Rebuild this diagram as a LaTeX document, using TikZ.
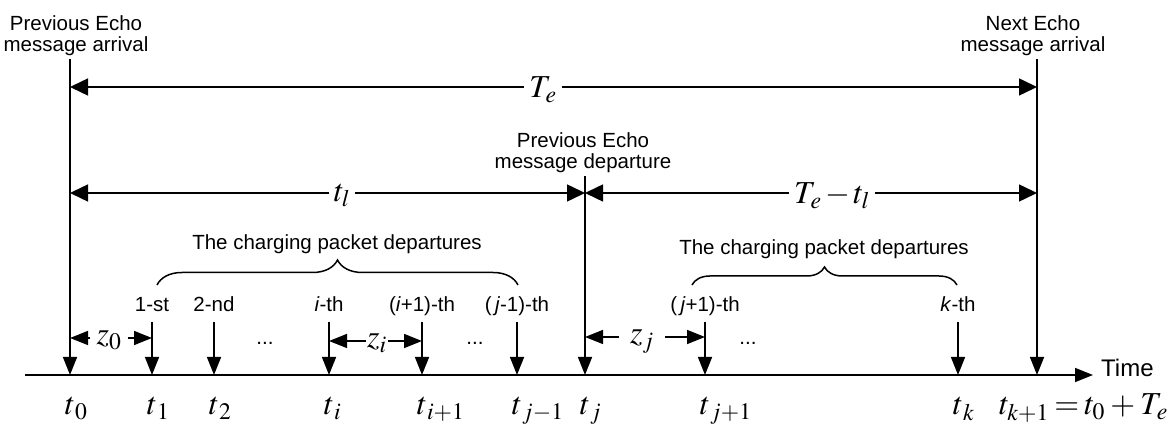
\documentclass[tikz,border=0pt]{standalone}
\usepackage{mathptmx}
\usepackage[no-math]{fontspec}
\usepackage{mathtools}
\usetikzlibrary{arrows.meta,decorations.pathreplacing}
\newfontfamily\arialfont{Liberation Sans}

\begin{document}
\begin{tikzpicture}[x=1pt, y=1pt,
    txt/.style={font=\arialfont\fontsize{20.5}{21}\selectfont, align=center, inner sep=3pt},
    mlab/.style={font=\fontsize{32}{36}\selectfont, inner sep=5pt, text depth=0pt},
    zlab/.style={font=\fontsize{32}{36}\selectfont, inner ysep=2pt, inner xsep=#1, text depth=0pt},
    tlab/.style={font=\fontsize{32}{36}\selectfont, anchor=base, inner sep=0pt},
    tick/.style={-{Triangle[length=18pt,width=14pt]}, line width=1.5pt},
    dim/.style={-{Triangle[length=18pt,width=17pt]}, line width=1.5pt},
    axis/.style={-{Triangle[length=18pt,width=14pt]}, line width=1.5pt},
    brc/.style={decorate, decoration={brace, amplitude=#1}, line width=1.5pt}]
    \useasboundingbox (0,0) rectangle (1174,425);

    \coordinate (a0) at (25,50);
    \coordinate (x0) at (70,50);
    \coordinate (xj) at (585,50);
    \coordinate (xe) at (1037,50);

    \node (time) [txt, font=\arialfont\fontsize{24}{25}\selectfont, anchor=base west, inner xsep=8pt] at (1093,48) {Time};
    \draw [axis] (a0) -- (a0 -| time.west);

    \node (prv) [txt] at (76,389) {Previous Echo\\message arrival};
    \node (nxt) [txt] at (1033,389) {Next Echo\\message arrival};
    \node (dep) [txt] at (583,272) {Previous Echo\\message departure};
    \draw [tick] (prv.south -| x0) -- (x0);
    \draw [tick] (nxt.south -| xe) -- (xe);
    \draw [tick] (dep.south -| xj) -- (xj);

    \foreach \n/\xx/\ord/\sub in {1/152/{1-st}/1, 2/214/{2-nd}/2, i/329/{\textit{i}-th}/i,
        ip/422/{(\textit{i}+1)-th}/{i+1}, jm/517/{(\,\textit{j}-1)-th}/{j-1},
        jp/705/{(\,\textit{j}+1)-th}/{j+1}, k/958/{\textit{k}-th}/k} {
        \coordinate (x\n) at (\xx,50);
        \node (o\n) [txt, anchor=base] at (\xx,113) {\ord};
        \draw [tick] ([yshift=-10pt]o\n.base) -- (x\n);
        \node (b\n) [tlab] at ([yshift=-40pt]x\n) {$t\mathrlap{_{\sub}}$};
    }

    \node (b0) [tlab] at ([yshift=-40pt]x0) {$t\mathrlap{_0}$};
    \node (bj) [tlab] at ([yshift=-40pt]xj) {$t\mathrlap{_j}$};
    \node (be) [tlab, anchor=base west] at (999,10) {$t_{k+1}\mskip3mu{=}\mskip3mu t_0\mskip3mu{+}\mskip3mu T_{\kern1pt e}$};

    \node (te) [mlab] at (543,338) {$T_{\kern1pt e}$};
    \draw [dim] (te) -- (te -| x0);
    \draw [dim] (te) -- (te -| xe);
    \node (tl) [mlab] at (342,232) {$t_l$};
    \draw [dim] (tl) -- (tl -| x0);
    \draw [dim] (tl) -- (tl -| xj);
    \node (tr) [mlab] at (832,232) {$T_{\kern1pt e}\mskip2mu{-}\mskip2mu t_l$};
    \draw [dim] (tr) -- (tr -| xj);
    \draw [dim] (tr) -- (tr -| xe);

    \node (z0) [zlab=6pt] at (109,87) {$z_0$};
    \draw [tick] (z0) -- (z0 -| x0);
    \draw [tick] (z0) -- (z0 -| x1);
    \node (zi) [zlab=1pt] at (377,84) {$z_i$};
    \draw [tick] (zi) -- (zi -| xi);
    \draw [tick] (zi) -- (zi -| xip);
    \node (zj) [zlab=11pt] at (642,88) {$z_j$};
    \draw [tick] (zj) -- (zj -| xj);
    \draw [tick] (zj) -- (zj -| xjp);

    \node (d1) [txt, anchor=base] at (265,80) {...};
    \node (d2) [txt, anchor=base] at (475,80) {...};
    \node (d3) [txt, anchor=base] at (748,80) {...};

    \coordinate (g1a) at (157,140);
    \coordinate (g1b) at (518,140);
    \draw [brc=25pt] (g1a) -- (g1b);
    \node (g1) [txt, anchor=base] at (337,175) {The charging packet departures};
    \coordinate (g2a) at (692,140);
    \coordinate (g2b) at (957,140);
    \draw [brc=18pt] (g2a) -- (g2b);
    \node (g2) [txt, anchor=base] at (824,170) {The charging packet departures};
\end{tikzpicture}
\end{document}
